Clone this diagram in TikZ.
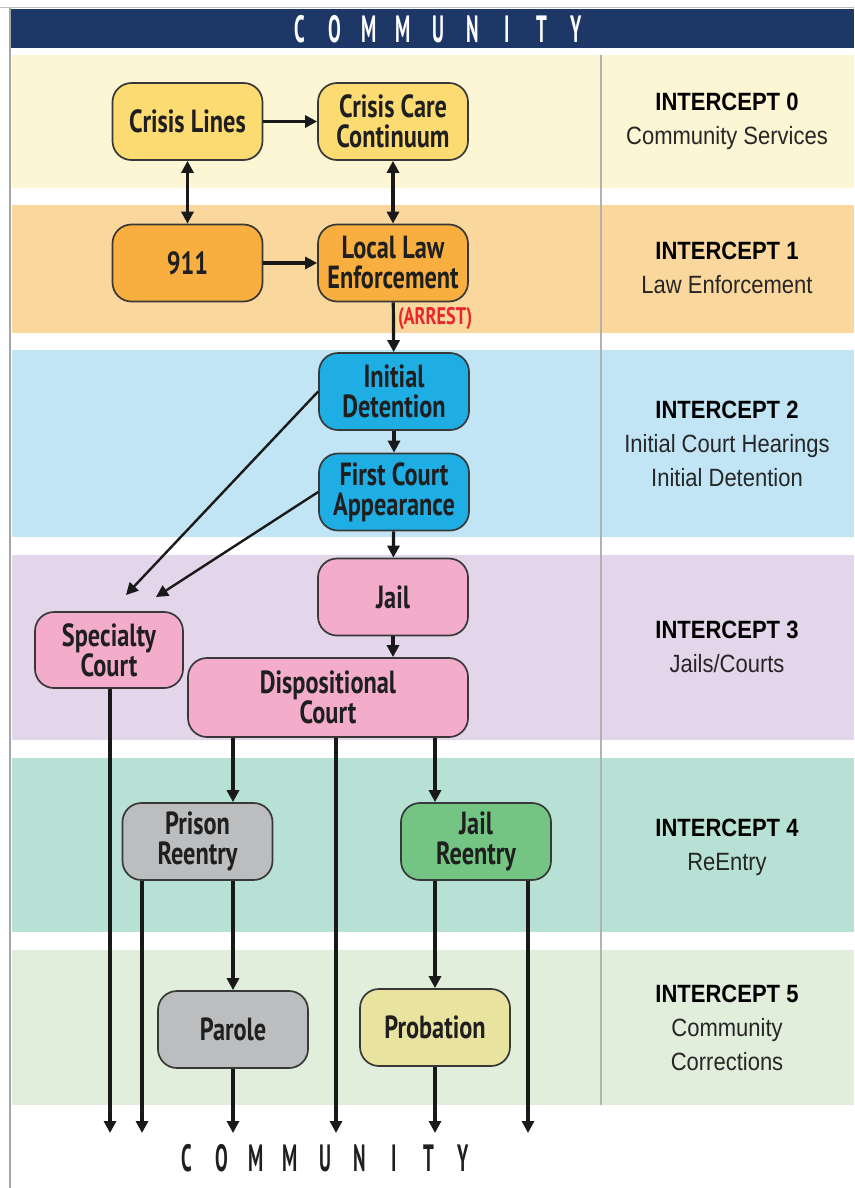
\documentclass[tikz,border=0pt]{standalone}
\usepackage{fontspec}
\usetikzlibrary{arrows.meta}
\newfontfamily\boxfont[FakeStretch=0.76]{PT Sans}
\newfontfamily\capfont[FakeStretch=0.5]{PT Sans}
\newfontfamily\labfont[FakeStretch=0.88]{Liberation Sans}
\newcommand\lsp[1]{\makebox[34.5pt]{#1}}
\definecolor{navy}{HTML}{1D3767}
\definecolor{bandA}{HTML}{FDF6D4}
\definecolor{bandB}{HTML}{F9D79D}
\definecolor{bandC}{HTML}{C2E5F6}
\definecolor{bandD}{HTML}{E3D6EA}
\definecolor{bandE}{HTML}{B7E1D5}
\definecolor{bandF}{HTML}{E1EEDB}
\definecolor{cy}{HTML}{FCDB72}
\definecolor{orng}{HTML}{F9AF3F}
\definecolor{blu}{HTML}{1EAEE3}
\definecolor{pnk}{HTML}{F3ADCB}
\definecolor{gry}{HTML}{BBBDBF}
\definecolor{grn}{HTML}{74C584}
\definecolor{ylw}{HTML}{E9E3A0}
\definecolor{arrestred}{HTML}{E8262B}
\begin{document}
\begin{tikzpicture}[x=1pt,y=-1pt,
  box/.style={draw=black!78, line width=1.7pt, rounded corners=19pt, minimum width=150pt, minimum height=77pt, align=center, inner sep=2pt, text=black!88, font=\boxfont\bfseries\fontsize{32}{30}\selectfont},
  arr/.style={line width=3.2pt, draw=black!90, -{Triangle[length=12pt,width=12pt]}},
  thinarr/.style={line width=2.4pt, draw=black!90, -{Triangle[length=12pt,width=12pt]}},
  darr/.style={line width=3.2pt, draw=black!90, {Triangle[length=12pt,width=12pt]}-{Triangle[length=12pt,width=12pt]}},
  lab/.style={align=center, text=black!85, font=\labfont\fontsize{25}{34}\selectfont},
  captxt/.style={inner sep=0pt, font=\capfont\bfseries\fontsize{38}{40}\selectfont}
]
\useasboundingbox (0,0) rectangle (854,1188);
\fill[white] (0,0) rectangle (854,1188);
% bands
\fill[bandA] (12,55) rectangle (854,188);
\fill[bandB] (12,205) rectangle (854,333);
\fill[bandC] (12,350) rectangle (854,537);
\fill[bandD] (12,555) rectangle (854,740);
\fill[bandE] (12,758) rectangle (854,932);
\fill[bandF] (12,950) rectangle (854,1105);
\draw[gray!60, line width=1.2pt] (601,55) -- (601,1105);
\draw[gray!50, line width=1pt] (0,7.5) -- (854,7.5);
\fill[navy] (11,9) rectangle (854,48);
\draw[gray!70, line width=2pt] (10,8) -- (10,1188);
\node[captxt, text=white] (top) at (438,29) {\lsp{C}\lsp{O}\lsp{M}\lsp{M}\lsp{U}\lsp{N}\lsp{I}\lsp{T}\lsp{Y}};
\node[captxt, text=black!88] (bottom) at (325,1158) {\lsp{C}\lsp{O}\lsp{M}\lsp{M}\lsp{U}\lsp{N}\lsp{I}\lsp{T}\lsp{Y}};
% nodes
\node[box, fill=cy] (cl) at (187.5,121.5) {Crisis Lines};
\node[box, fill=cy] (cc) at (393,121.5) {Crisis Care\\Continuum};
\node[box, fill=orng] (n911) at (187.5,263) {911};
\node[box, fill=orng] (lle) at (393,263) {Local Law\\Enforcement};
\node[box, fill=blu] (idt) at (394,391.5) {Initial\\Detention};
\node[box, fill=blu] (fca) at (394,492) {First Court\\Appearance};
\node[box, fill=pnk] (jail) at (393,597) {Jail};
\node[box, fill=pnk, minimum width=280pt, minimum height=79pt] (dc) at (328,697.5) {Dispositional\\Court};
\node[box, fill=pnk, minimum width=148pt, minimum height=76pt] (sc) at (109,650) {Specialty\\Court};
\node[box, fill=gry] (pr) at (197.5,841.5) {Prison\\Reentry};
\node[box, fill=grn] (jr) at (476,841.5) {Jail\\Reentry};
\node[box, fill=gry] (par) at (233,1029.5) {Parole};
\node[box, fill=ylw] (prob) at (435,1027.5) {Probation};
% right labels
\node[lab] (i0) at (727,121.5) {{\bfseries\color{black}INTERCEPT 0}\\Community Services};
\node[lab] (i1) at (727,268) {{\bfseries\color{black}INTERCEPT 1}\\Law Enforcement};
\node[lab] (i2) at (727,444) {{\bfseries\color{black}INTERCEPT 2}\\Initial Court Hearings\\Initial Detention};
\node[lab] (i3) at (727,647) {{\bfseries\color{black}INTERCEPT 3}\\Jails/Courts};
\node[lab] (i4) at (727,847) {{\bfseries\color{black}INTERCEPT 4}\\ReEntry};
\node[lab] (i5) at (727,1028) {{\bfseries\color{black}INTERCEPT 5}\\Community\\Corrections};
% connectors
\draw[arr] (cl) -- (cc);
\draw[darr] (cl) -- (n911);
\draw[darr] (cc) -- (lle);
\draw[arr] (n911) -- (lle);
\draw[arr] (lle) -- node[pos=0.33, anchor=west, inner sep=3pt, text=arrestred, font=\boxfont\bfseries\fontsize{24}{26}\selectfont] {(ARREST)} (idt);
\draw[arr] (idt) -- (fca);
\draw[arr] (fca) -- (jail);
\draw[arr] (jail) -- (jail |- dc.north);
\coordinate (t1) at (126,595);
\coordinate (t2) at (156,597);
\draw[thinarr] (idt.west) -- (t1);
\draw[thinarr] (fca.west) -- (t2);
\coordinate (b1) at (110,1133);
\coordinate (b2) at (142,1133);
\coordinate (b3) at (233,1133);
\coordinate (b4) at (336,1133);
\coordinate (b5) at (435,1133);
\coordinate (b6) at (528,1133);
\draw[arr] (sc.south -| b1) -- (b1);
\draw[arr] (pr.south -| b2) -- (b2);
\draw[arr] (par.south) -- (b3);
\draw[arr] (dc.south -| b4) -- (b4);
\draw[arr] (prob.south) -- (b5);
\draw[arr] (jr.south -| b6) -- (b6);
\draw[arr] (dc.south -| par) -- (pr.north -| par);
\draw[arr] (dc.south -| prob) -- (jr.north -| prob);
\draw[arr] (pr.south -| par) -- (par.north);
\draw[arr] (jr.south -| prob) -- (prob.north);
\end{tikzpicture}
\end{document}
